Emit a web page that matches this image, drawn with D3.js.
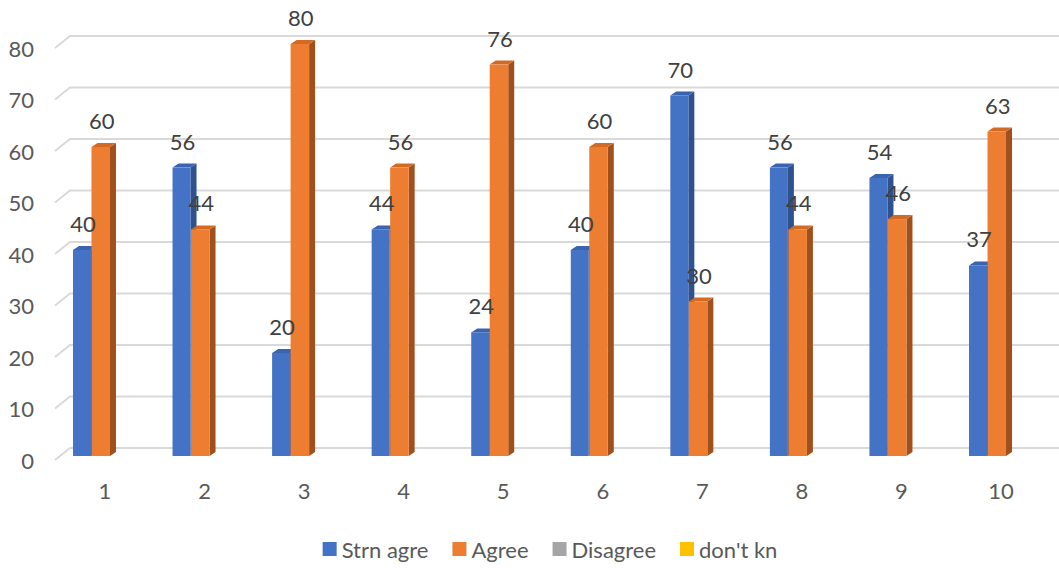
<!DOCTYPE html>
<html>
<head>
<meta charset="utf-8">
<script src="https://cdn.jsdelivr.net/npm/d3@7"></script>
<style>
  html, body { margin: 0; padding: 0; background: #fff; }
  svg { display: block; font-family: Lato, "Open Sans", sans-serif; }
</style>
</head>
<body>
<svg id="chart" width="1059" height="568"></svg>
<script>
// ---- data ----
const categories = ["1", "2", "3", "4", "5", "6", "7", "8", "9", "10"];
const strnAgre = [40, 56, 20, 44, 24, 40, 70, 56, 54, 37];
const agree = [60, 44, 80, 56, 76, 60, 30, 44, 46, 63];
const disagree = [null, null, null, null, null, null, null, null, null, null];
const dontKn = [null, null, null, null, null, null, null, null, null, null];
const seriesNames = ["Strn agre", "Agree", "Disagree", "don't kn"];
const yTicks = [0, 10, 20, 30, 40, 50, 60, 70, 80];

// ---- styles ----
const colors = ["#4472C4", "#ED7D31", "#A5A5A5", "#FFC000"];
const sideColors = ["#2F528F", "#A0501D", "#7C7C7C", "#BF9000"];
const topColors = ["#3A63B0", "#D26A24", "#939393", "#E0A800"];

const svg = d3.select("#chart");
const W = 1059;

const y = d3.scaleLinear().domain([0, 80]).range([456, 44]);
const x = d3.scaleBand().domain(categories).range([55.2, 1050.8]);

const dx = 6, dy = 4;        // bar depth offsets
const backOff = 8, frontOff = 4; // gridline wall offsets

// gridlines
const grid = svg.append("g");
yTicks.forEach(v => {
  const yb = y(v) - backOff, yf = y(v) + frontOff;
  grid.append("path")
    .attr("d", `M55,${yf} L70,${yb} L${W},${yb}`)
    .attr("fill", "none")
    .attr("stroke", "#D9D9D9")
    .attr("stroke-width", 2);
});

// y labels
svg.append("g").selectAll("text").data(yTicks).join("text")
  .attr("x", 34).attr("y", v => y(v) + frontOff)
  .attr("text-anchor", "end").attr("dominant-baseline", "central")
  .attr("font-size", 22).attr("fill", "#595959")
  .text(d => d);

// category labels
svg.append("g").selectAll("text").data(categories).join("text")
  .attr("x", c => x(c) + x.bandwidth() / 2).attr("y", 490)
  .attr("text-anchor", "middle").attr("dominant-baseline", "central")
  .attr("font-size", 22).attr("fill", "#595959")
  .text(d => d);

// bars
const seriesVals = [strnAgre, agree, disagree, dontKn];
const barOffsets = [-32, -13.5];
const barWidths = [18, 18.5];
const base = y(0);
const barsG = svg.append("g");
const labelsG = svg.append("g");

[0, 1].forEach(s => {
  categories.forEach((c, i) => {
    const v = seriesVals[s][i];
    if (v == null) return;
    const cx = x(c) + x.bandwidth() / 2;
    const x0 = cx + barOffsets[s], w = barWidths[s];
    const yt = y(v);
    const g = barsG.append("g");
    // side
    g.append("path")
      .attr("d", `M${x0 + w},${yt} L${x0 + w + dx},${yt - dy} L${x0 + w + dx},${base - dy} L${x0 + w},${base} Z`)
      .attr("fill", sideColors[s]);
    // top
    g.append("path")
      .attr("d", `M${x0},${yt} L${x0 + dx},${yt - dy} L${x0 + w + dx},${yt - dy} L${x0 + w},${yt} Z`)
      .attr("fill", topColors[s]);
    // front
    g.append("rect")
      .attr("x", x0).attr("y", yt).attr("width", w).attr("height", base - yt)
      .attr("fill", colors[s]);
    labelsG.append("text")
      .attr("x", x0 + w / 2 + 1).attr("y", yt - 18)
      .attr("text-anchor", "middle")
      .attr("font-size", 22).attr("fill", "#404040")
      .text(v);
  });
});

// legend
const leg = svg.append("g");
let lx = 0;
const items = [];
seriesNames.forEach((n, i) => {
  const it = leg.append("g");
  it.append("rect").attr("x", lx).attr("y", 542).attr("width", 14).attr("height", 14).attr("fill", colors[i]);
  const t = it.append("text").attr("x", lx + 19).attr("y", 549)
    .attr("dominant-baseline", "central")
    .attr("font-size", 22).attr("fill", "#595959").text(n);
  const tw = t.node().getComputedTextLength();
  lx += 19 + tw + 24;
});
const totalW = lx - 24;
leg.attr("transform", `translate(${550 - totalW / 2},0)`);
</script>
</body>
</html>
